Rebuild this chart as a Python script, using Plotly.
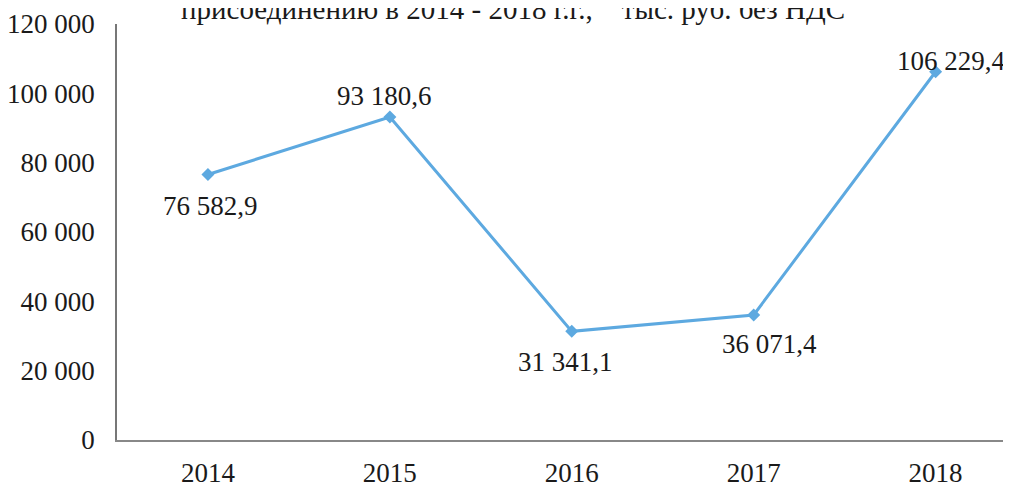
import plotly.graph_objects as go

years = ["2014", "2015", "2016", "2017", "2018"]
values = [76582.9, 93180.6, 31341.1, 36071.4, 106229.4]
value_labels = ["76 582,9", "93 180,6", "31 341,1", "36 071,4", "106 229,4"]
tick_vals = [0, 20000, 40000, 60000, 80000, 100000, 120000]
tick_text = ["0", "20 000", "40 000", "60 000", "80 000", "100 000", "120 000"]
title_text = "присоединению в 2014 - 2018 г.г.,\u00a0\u00a0\u00a0 тыс. руб. без НДС"

# label offsets (style)
label_dx = [3, -5, -6, 16, 16]
label_dy = [-31, 21, -31, -29, 11]

FONT = "Liberation Serif, Times New Roman, serif"
TXT = "#1a1a1a"

fig = go.Figure()
fig.add_trace(go.Scatter(
    x=years, y=values, mode="lines+markers",
    line=dict(color="#5DA9E0", width=3),
    marker=dict(symbol="diamond", size=10, color="#5DA9E0"),
    hoverinfo="skip", showlegend=False,
))

for i, (yv, t) in enumerate(zip(values, value_labels)):
    fig.add_annotation(x=i, y=yv, xref="x", yref="y", text=t, showarrow=False,
                       xshift=label_dx[i], yshift=label_dy[i],
                       font=dict(family=FONT, size=27, color=TXT))

fig.add_annotation(x=0.442, y=1.036, xref="paper", yref="paper", text=title_text,
                   showarrow=False, xanchor="center", yanchor="middle",
                   font=dict(family=FONT, size=29, color=TXT))

fig.update_layout(
    width=1011, height=492,
    margin=dict(l=109, r=7, t=16, b=60, pad=0),
    paper_bgcolor="white", plot_bgcolor="white",
    font=dict(family=FONT, size=27, color=TXT),
    xaxis=dict(type="category", range=[-0.5, 4.42], showgrid=False, zeroline=False,
               automargin=False,
               showline=True, linecolor="#888888", linewidth=1.5, ticks="",
               ticklabelstandoff=8, tickfont=dict(family=FONT, size=27, color=TXT)),
    yaxis=dict(range=[0, 120000], tickvals=tick_vals, ticktext=tick_text,
               automargin=False,
               showgrid=False, zeroline=False, showline=True, linecolor="#777777",
               linewidth=1.5, ticks="", ticklabelstandoff=15,
               tickfont=dict(family=FONT, size=27, color=TXT)),
)

fig.write_html("out.html")
